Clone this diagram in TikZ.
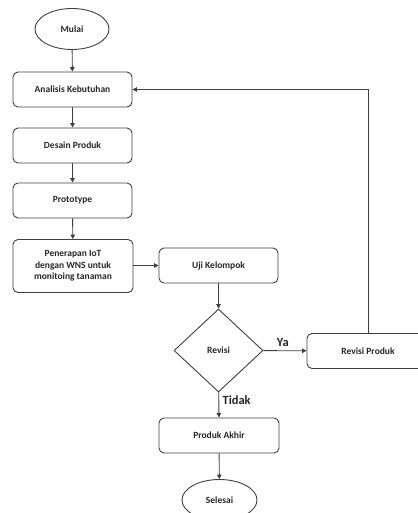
\documentclass[tikz,border=0pt]{standalone}
\usepackage{fontspec}
\setmainfont{Carlito}
\usetikzlibrary{arrows.meta, shapes.geometric}
\definecolor{cline}{HTML}{3F3F3F}
\definecolor{ctext}{HTML}{262626}
\tikzset{
  every picture/.style={font=\bfseries\fontsize{9.5}{11.5}\selectfont, line width=0.9pt},
  box/.style={draw=cline, rounded corners=5pt, align=center, text=ctext, minimum width=119pt, minimum height=35pt, inner sep=2pt},
  term/.style={draw=cline, ellipse, text=ctext, minimum width=74pt, minimum height=41pt, inner sep=0pt},
  decide/.style={draw=cline, diamond, text=ctext, minimum width=89pt, minimum height=83pt, inner sep=0pt},
  arrow/.style={-{Triangle[length=4.5pt, width=4.5pt]}, draw=cline, line width=0.9pt},
  answer/.style={font=\bfseries\fontsize{12.5}{14}\selectfont, text=ctext},
}

\begin{document}
\begin{tikzpicture}[x=1pt, y=-1pt]
  \useasboundingbox (0,0) rectangle (417,513);
  \node[term] (mulai) at (72,29) {Mulai};
  \node[box] (analisis) at (72.5,89.5) {Analisis Kebutuhan};
  \node[box] (desain) at (72.5,145.5) {Desain Produk};
  \node[box] (proto) at (72.5,200.5) {Prototype};
  \node[box, minimum height=53pt, minimum width=120pt] (terap) at (73,266) {Penerapan IoT\\dengan WNS untuk\\monitoing tanaman};
  \node[box] (uji) at (218.5,265.5) {Uji Kelompok};
  \node[decide] (revisi) at (218.5,350.5) {Revisi};
  \node[box, minimum width=122pt] (revprod) at (368,351) {Revisi Produk};
  \node[box, minimum width=120pt] (akhir) at (219,435.5) {Produk Akhir};
  \node[term, minimum width=75pt] (selesai) at (219.5,500) {Selesai};

  \draw[arrow] (mulai) -- (analisis);
  \draw[arrow] (analisis) -- (desain);
  \draw[arrow] (desain) -- (proto);
  \draw[arrow] (proto) -- (terap);
  \draw[arrow] (terap.east |- uji.west) -- (uji.west);
  \draw[arrow] (uji) -- (revisi);
  \draw[arrow] (revisi) -- node[answer, above, pos=0.45] {Ya} (revprod);
  \draw[arrow] (revisi) -- node[answer, right, pos=0.3] {Tidak} (akhir);
  \draw[arrow] (akhir) -- (selesai);
  \draw[arrow] (revprod.north) |- (analisis.east);
\end{tikzpicture}
\end{document}
